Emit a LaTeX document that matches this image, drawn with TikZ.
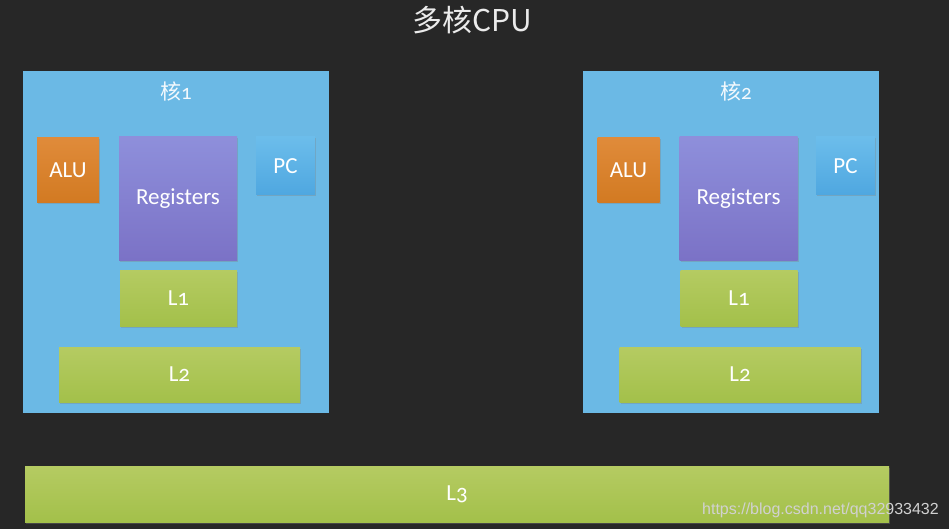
\documentclass[tikz,border=0pt]{standalone}
\usepackage{fontspec}
\setmainfont[Numbers=OldStyle]{Carlito}
\newfontfamily\cjk{Noto Sans CJK SC}
\newfontfamily\wm{Liberation Sans}
\newfontfamily\osnum[Numbers=OldStyle]{Carlito}
\usetikzlibrary{shadows}
\definecolor{bgc}{HTML}{272727}
\definecolor{corec}{HTML}{6BB9E5}
\definecolor{alutop}{HTML}{E08B3A}
\definecolor{alubot}{HTML}{D27A22}
\definecolor{regtop}{HTML}{8E8FDB}
\definecolor{regbot}{HTML}{7B72C6}
\definecolor{pctop}{HTML}{6CBDEB}
\definecolor{pcbot}{HTML}{4FA7E0}
\definecolor{grtop}{HTML}{B5CB62}
\definecolor{grbot}{HTML}{A3C04A}
\tikzset{
  x=1pt, y=-1pt,
  boxbase/.style={rectangle, inner sep=0pt, text=white, font=\fontsize{23}{25}\selectfont,
    drop shadow={shadow xshift=1pt, shadow yshift=-1.5pt, opacity=0.35}},
  corebox/.style={rectangle, inner sep=0pt, fill=corec, draw=none},
  alubox/.style={boxbase, top color=alutop, bottom color=alubot, minimum width=62pt, minimum height=65pt},
  regbox/.style={boxbase, top color=regtop, bottom color=regbot, minimum width=118pt, minimum height=123pt},
  pcbox/.style={boxbase, top color=pctop, bottom color=pcbot, minimum width=59pt, minimum height=58pt},
  lonebox/.style={boxbase, top color=grtop, bottom color=grbot, minimum width=117pt, minimum height=56pt},
  ltwobox/.style={boxbase, top color=grtop, bottom color=grbot, minimum width=241pt, minimum height=55pt},
  lthreebox/.style={boxbase, top color=grtop, bottom color=grbot, minimum width=864pt, minimum height=56pt},
  corelabel/.style={text=white!92!corec, font=\cjk\fontsize{21}{23}\selectfont},
}
\begin{document}
\begin{tikzpicture}
\fill[bgc] (0,0) rectangle (949,529);
\useasboundingbox (0,0) rectangle (949,529);
% title
\node[text=white!92!black, font=\cjk\fontsize{30}{32}\selectfont] (title) at (472,20) {多核CPU};
% core 1
\node[corebox, minimum width=306pt, minimum height=342pt] (core1) at (176,242) {};
\node[corelabel] (core1lab) at (176,91) {核{\osnum 1}};
\node[alubox] (alu1) at (68,170) {ALU};
\node[regbox] (reg1) at (178,198.5) {Registers};
\node[pcbox] (pc1) at (285.5,166) {PC};
\node[lonebox] (lone1) at (178.5,298) {L1};
\node[ltwobox] (ltwo1) at (179.5,374.5) {L2};
% core 2
\node[corebox, minimum width=296pt, minimum height=342pt] (core2) at (731,242) {};
\node[corelabel] (core2lab) at (736,91) {核{\osnum 2}};
\node[alubox] (alu2) at (628.5,170) {ALU};
\node[regbox] (reg2) at (738.5,198.5) {Registers};
\node[pcbox] (pc2) at (845.5,166) {PC};
\node[lonebox] (lone2) at (739,298) {L1};
\node[ltwobox] (ltwo2) at (740,374.5) {L2};
% L3
\node[lthreebox] (lthree) at (457,494) {L3};
% watermark
\node[anchor=east, text=white!82!black, font=\wm\fontsize{16}{18}\selectfont, inner sep=0pt] (wmark) at (939,510) {https://blog.csdn.net/qq32933432};
\end{tikzpicture}
\end{document}
